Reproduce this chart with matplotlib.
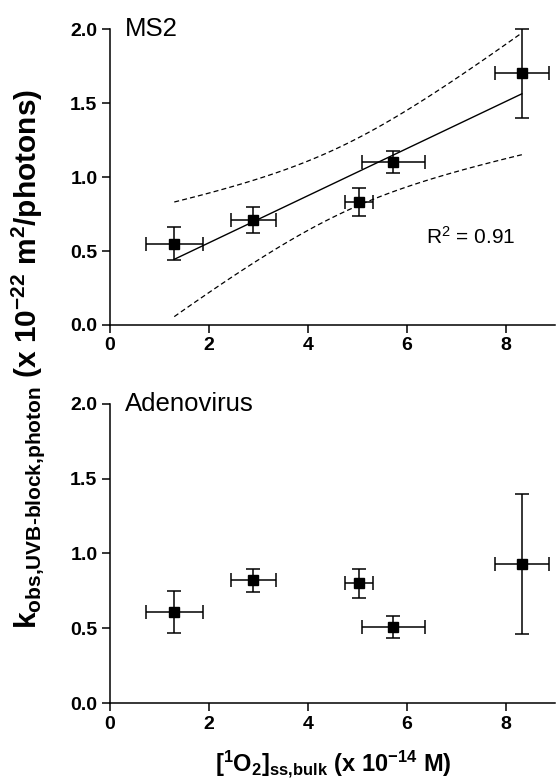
import numpy as np
import matplotlib
matplotlib.use("Agg")
import matplotlib.pyplot as plt

plt.rcParams["font.family"] = ["Liberation Sans", "DejaVu Sans"]
plt.rcParams["mathtext.fontset"] = "custom"
plt.rcParams["mathtext.rm"] = "Liberation Sans"
plt.rcParams["mathtext.bf"] = "Liberation Sans:bold"
plt.rcParams["mathtext.it"] = "Liberation Sans:bold"
plt.rcParams["mathtext.default"] = "bf"

# singlet oxygen steady-state concentration (x 1e-14 M), same samples for both viruses
o2_conc = np.array([1.30, 2.90, 5.03, 5.73, 8.33])
o2_err = np.array([0.58, 0.46, 0.28, 0.64, 0.55])

# photon-normalised inactivation rate constants (x 1e-22 m^2/photons)
ms2_k = np.array([0.55, 0.71, 0.83, 1.10, 1.70])
ms2_err = np.array([0.11, 0.085, 0.095, 0.075, 0.30])
adeno_k = np.array([0.61, 0.82, 0.80, 0.51, 0.93])
adeno_err = np.array([0.14, 0.075, 0.095, 0.073, 0.47])

T_95_DF3 = 3.182  # two-sided 95% t value, n - 2 = 3
HYPHEN = "\u2010"  # mathtext turns '-' into a minus sign


def linear_fit_band(x, y, n=100):
    """Least-squares line with 95% confidence band on the mean."""
    slope, icpt = np.polyfit(x, y, 1)
    resid = y - (slope * x + icpt)
    s = np.sqrt(np.sum(resid**2) / (len(x) - 2))
    sxx = np.sum((x - x.mean())**2)
    r2 = 1 - np.sum(resid**2) / np.sum((y - y.mean())**2)
    xx = np.linspace(x.min(), x.max(), n)
    yy = slope * xx + icpt
    half = T_95_DF3 * s * np.sqrt(1 / len(x) + (xx - x.mean())**2 / sxx)
    return xx, yy, yy - half, yy + half, r2


def style_axes(ax, name):
    ax.set_xlim(0, 9)
    ax.set_ylim(0, 2.0)
    ax.set_xticks([0, 2, 4, 6, 8])
    ax.set_yticks([0.0, 0.5, 1.0, 1.5, 2.0])
    ax.set_yticklabels([f"{v:.1f}" for v in [0.0, 0.5, 1.0, 1.5, 2.0]])
    for side in ("top", "right"):
        ax.spines[side].set_visible(False)
    for side in ("left", "bottom"):
        ax.spines[side].set_linewidth(1.1)
    ax.tick_params(direction="out", length=6, width=1.1, pad=3, labelsize=14)
    for lab in ax.get_xticklabels() + ax.get_yticklabels():
        lab.set_fontweight("bold")
    ax.text(0.034, 1.0, name, transform=ax.transAxes, fontsize=18.5,
            ha="left", va="center")


def draw_points(ax, y, yerr):
    ax.errorbar(o2_conc, y, xerr=o2_err, yerr=yerr, fmt="s", ms=7.5,
                color="black", ecolor="black", elinewidth=1.1, capsize=5,
                capthick=1.1, clip_on=False, zorder=3)


fig = plt.figure(figsize=(5.58, 7.82), dpi=100)
ax1 = fig.add_axes([0.1971, 0.5844, 0.7975, 0.3785])
ax2 = fig.add_axes([0.1971, 0.1010, 0.7975, 0.3824])

# MS2: data with linear regression and 95% confidence band
xx, yy, lo, hi, r2 = linear_fit_band(o2_conc, ms2_k)
ax1.plot(xx, yy, color="black", lw=1.0, zorder=2)
ax1.plot(xx, lo, color="black", lw=0.9, ls=(0, (4, 2.5)), zorder=2)
ax1.plot(xx, hi, color="black", lw=0.9, ls=(0, (4, 2.5)), zorder=2)
draw_points(ax1, ms2_k, ms2_err)
ax1.text(7.29, 0.595, f"R$^{{\\mathrm{{2}}}}$ = {r2:.2f}", fontsize=15,
         ha="center", va="center")
style_axes(ax1, "MS2")

# Adenovirus: data only
draw_points(ax2, adeno_k, adeno_err)
style_axes(ax2, "Adenovirus")

# "{,}" keeps mathtext from padding the commas in the subscripts
ylab = ("k$_{obs{,}UVB" + HYPHEN + "block{,}photon}$"
        + r" (x 10$^{-22}$ m$^{2}$/photons)")
fig.text(0.05, 0.541, ylab, rotation=90, ha="center", va="center",
         fontsize=21.5, fontweight="bold")
fig.text(0.597, 0.022,
         r"[$^{1}$O$_{2}$]$_{ss{,}bulk}$ (x 10$^{-14}$ M)",
         ha="center", va="center", fontsize=17, fontweight="bold")

fig.savefig("out.png", dpi=100)
